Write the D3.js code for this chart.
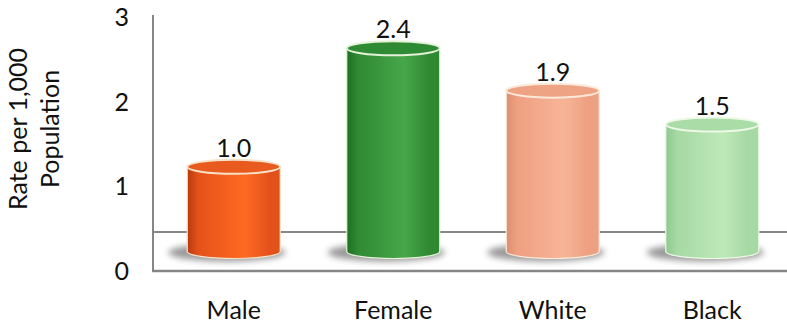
<!DOCTYPE html>
<html>
<head>
<meta charset="utf-8">
<script src="https://cdn.jsdelivr.net/npm/d3@7"></script>
<style>
  html, body { margin: 0; padding: 0; background: #fff; }
  svg { display: block; }
  text { font-family: Lato, "Open Sans", sans-serif; fill: #111; }
</style>
</head>
<body>
<svg id="chart" width="787" height="326"></svg>
<script>
// Rates per 1,000 population by group
const categories = ["Male", "Female", "White", "Black"];
const rates = [1.0, 2.4, 1.9, 1.5];
const yTicks = [0, 1, 2, 3];
const yTitleLines = ["Rate per 1,000", "Population"];

// Body shading per cylinder: [left edge, mid, highlight, right edge, top face, rim]
const palettes = [
  ["#b93a0c", "#e4521a", "#ff6a22", "#e0521c", "#e85a1e", "#f6e2c8"],
  ["#1f6e22", "#2f8a33", "#47a64a", "#2e8832", "#2f8a34", "#e6f2d8"],
  ["#dc8e6e", "#eea081", "#f8b497", "#eca082", "#efa385", "#fbe9da"],
  ["#8fc98f", "#a6d9a4", "#bde9b8", "#a5d8a3", "#a9dca7", "#eef8e6"]
];

const svg = d3.select("#chart");
const W = 787;
const fontSize = "25px";

const x = d3.scaleBand()
  .domain(categories)
  .range([154, 792])
  .paddingInner(0.417)
  .paddingOuter(0.2085);

const y = d3.scaleLinear().domain([0, 3]).range([271, 17]);

// Depth offsets of the 3D floor: back wall edge and bar base line
const backShift = 39;
const baseShift = 19.5;
const ry = 7;

const defs = svg.append("defs");
defs.append("filter").attr("id", "shadowBlur")
  .attr("x", "-50%").attr("y", "-100%").attr("width", "200%").attr("height", "300%")
  .append("feGaussianBlur").attr("stdDeviation", 3);

palettes.forEach((p, i) => {
  const g = defs.append("linearGradient").attr("id", "body" + i)
    .attr("x1", "0%").attr("x2", "100%").attr("y1", "0%").attr("y2", "0%");
  [[0, p[0]], [0.12, p[1]], [0.62, p[2]], [0.88, p[1]], [1, p[3]]].forEach(([o, c]) =>
    g.append("stop").attr("offset", o).attr("stop-color", c));
});

// Floor and axis frame
const axisColor = "#868686";
const floorBack = y(0) - backShift;
const frame = svg.append("g").attr("stroke", axisColor).attr("stroke-width", 2);
frame.append("line")
  .attr("x1", 153).attr("x2", 153).attr("y1", y(3) - 2).attr("y2", y(0) + 1);
frame.append("line")
  .attr("x1", 152).attr("x2", W).attr("y1", floorBack).attr("y2", floorBack);
frame.append("line")
  .attr("x1", 152).attr("x2", W).attr("y1", y(0)).attr("y2", y(0))
  .attr("stroke-width", 2.5);

// Y tick labels
svg.append("g").selectAll("text").data(yTicks).join("text")
  .attr("x", 129).attr("y", d => y(d))
  .attr("dy", "0.36em")
  .attr("text-anchor", "end")
  .style("font-size", fontSize)
  .text(d => d);

// Y title
const yt = svg.append("text")
  .attr("transform", "translate(34,129) rotate(-90)")
  .attr("text-anchor", "middle")
  .style("font-size", fontSize);
yTitleLines.forEach((t, i) => {
  yt.append("tspan").attr("x", 0).attr("dy", i === 0 ? "-0.28em" : "1.28em").text(t);
});

// Cylinders
const bars = svg.append("g").selectAll("g").data(categories).join("g");
bars.each(function(c, i) {
  const g = d3.select(this);
  const p = palettes[i];
  const cx = x(c) + x.bandwidth() / 2;
  const rx = x.bandwidth() / 2;
  const yb = y(0) - baseShift;
  const yTop = y(rates[i]) - baseShift;

  // soft floor shadow, cast slightly to the left
  g.append("ellipse").attr("cx", cx - 7).attr("cy", yb + 1)
    .attr("rx", rx + 12).attr("ry", ry + 2)
    .attr("fill", "#555").attr("opacity", 0.6)
    .attr("filter", "url(#shadowBlur)");

  // side body
  const body = `M${cx - rx},${yTop} L${cx - rx},${yb} A${rx},${ry} 0 0 0 ${cx + rx},${yb} L${cx + rx},${yTop} Z`;
  g.append("path").attr("d", body)
    .attr("fill", `url(#body${i})`)
    .attr("stroke", p[5]).attr("stroke-width", 1.2);

  // top face
  g.append("ellipse").attr("cx", cx).attr("cy", yTop)
    .attr("rx", rx).attr("ry", ry)
    .attr("fill", p[4])
    .attr("stroke", p[5]).attr("stroke-width", 2);

  // value label
  g.append("text").attr("x", cx).attr("y", yTop - 10)
    .attr("text-anchor", "middle")
    .style("font-size", fontSize)
    .text(d3.format(".1f")(rates[i]));
});

// Category labels
svg.append("g").selectAll("text").data(categories).join("text")
  .attr("x", d => x(d) + x.bandwidth() / 2)
  .attr("y", 319)
  .attr("text-anchor", "middle")
  .style("font-size", fontSize)
  .text(d => d);
</script>
</body>
</html>
